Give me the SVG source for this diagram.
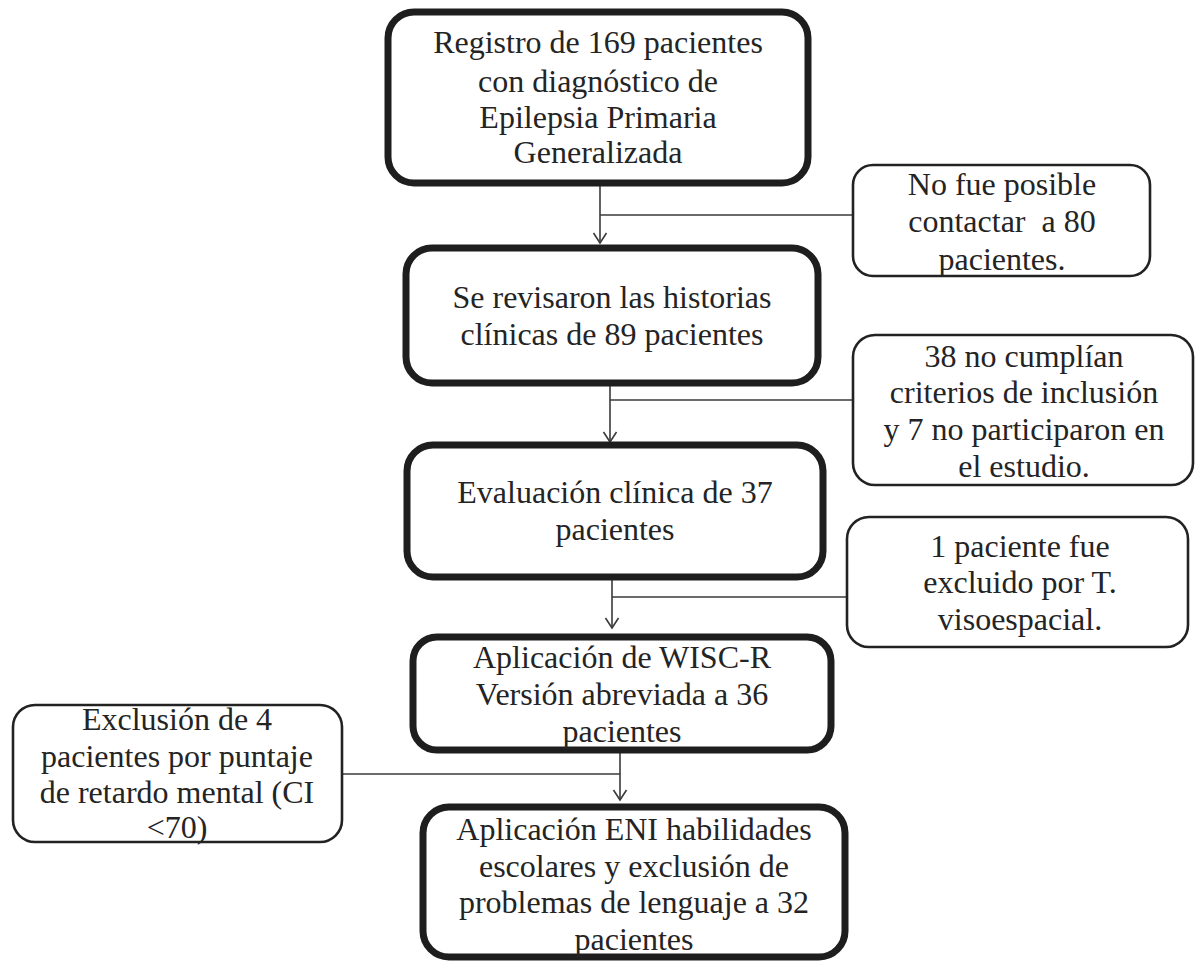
<svg xmlns="http://www.w3.org/2000/svg" width="1201" height="962" viewBox="0 0 1201 962">
<style>
.main{fill:#fff;stroke:#1e1e1e;stroke-width:7}
.side{fill:#fff;stroke:#222;stroke-width:2.6}
.t{font-family:"Liberation Serif","Times New Roman",serif;font-size:32px;fill:#242424;text-anchor:middle}
.ln{fill:none;stroke:#3a3a3a;stroke-width:1.6}
</style>
<defs>
<marker id="arr" markerWidth="14" markerHeight="16" refX="12" refY="8" markerUnits="userSpaceOnUse" orient="auto" viewBox="0 0 14 16">
<path d="M2,1.5 L12,8 L2,14.5" fill="none" stroke="#3a3a3a" stroke-width="1.6"/>
</marker>
</defs>
<rect width="1201" height="962" fill="#fff"/>
<g id="connectors">
<path class="ln" d="M600,183 V243" marker-end="url(#arr)"/>
<path class="ln" d="M600,215 H853"/>
<path class="ln" d="M610,383 V442" marker-end="url(#arr)"/>
<path class="ln" d="M610,400 H853"/>
<path class="ln" d="M612,577 V628" marker-end="url(#arr)"/>
<path class="ln" d="M612,597 H847"/>
<path class="ln" d="M620,750 V800" marker-end="url(#arr)"/>
<path class="ln" d="M342,774 H620"/>
</g>
<g id="n1">
<rect class="main" x="388" y="12" width="420" height="171" rx="26"/>
<text class="t" x="598" y="53">Registro de 169 pacientes</text>
<text class="t" x="598" y="92">con diagnóstico de</text>
<text class="t" x="598" y="128">Epilepsia Primaria</text>
<text class="t" x="598" y="163">Generalizada</text>
</g>
<g id="s1">
<rect class="side" x="853" y="165" width="297" height="111" rx="20"/>
<text class="t" x="1002" y="195">No fue posible</text>
<text class="t" x="1002" y="232" xml:space="preserve">contactar  a 80</text>
<text class="t" x="1002" y="270">pacientes.</text>
</g>
<g id="n2">
<rect class="main" x="406" y="248" width="412" height="135" rx="26"/>
<text class="t" x="612" y="308">Se revisaron las historias</text>
<text class="t" x="612" y="345">clínicas de 89 pacientes</text>
</g>
<g id="s2">
<rect class="side" x="853" y="335" width="340" height="150" rx="22"/>
<text class="t" x="1024" y="367">38 no cumplían</text>
<text class="t" x="1024" y="403">criterios de inclusión</text>
<text class="t" x="1024" y="440">y 7 no participaron en</text>
<text class="t" x="1024" y="477">el estudio.</text>
</g>
<g id="n3">
<rect class="main" x="407" y="445" width="416" height="132" rx="26"/>
<text class="t" x="615" y="503">Evaluación clínica de 37</text>
<text class="t" x="615" y="540">pacientes</text>
</g>
<g id="s3">
<rect class="side" x="847" y="517" width="341" height="130" rx="22"/>
<text class="t" x="1020" y="557">1 paciente fue</text>
<text class="t" x="1020" y="593">excluido por T.</text>
<text class="t" x="1020" y="630">visoespacial.</text>
</g>
<g id="n4">
<rect class="main" x="413" y="637" width="418" height="113" rx="24"/>
<text class="t" x="622" y="668">Aplicación de WISC-R</text>
<text class="t" x="622" y="705">Versión abreviada a 36</text>
<text class="t" x="622" y="742">pacientes</text>
</g>
<g id="s4">
<rect class="side" x="13" y="705" width="329" height="137" rx="22"/>
<text class="t" x="177" y="730">Exclusión de 4</text>
<text class="t" x="177" y="767">pacientes por puntaje</text>
<text class="t" x="177" y="803">de retardo mental (CI</text>
<text class="t" x="177" y="838">&lt;70)</text>
</g>
<g id="n5">
<rect class="main" x="423" y="807" width="422" height="150" rx="26"/>
<text class="t" x="634" y="840">Aplicación ENI habilidades</text>
<text class="t" x="634" y="877">escolares y exclusión de</text>
<text class="t" x="634" y="913">problemas de lenguaje a 32</text>
<text class="t" x="634" y="950">pacientes</text>
</g>
</svg>
